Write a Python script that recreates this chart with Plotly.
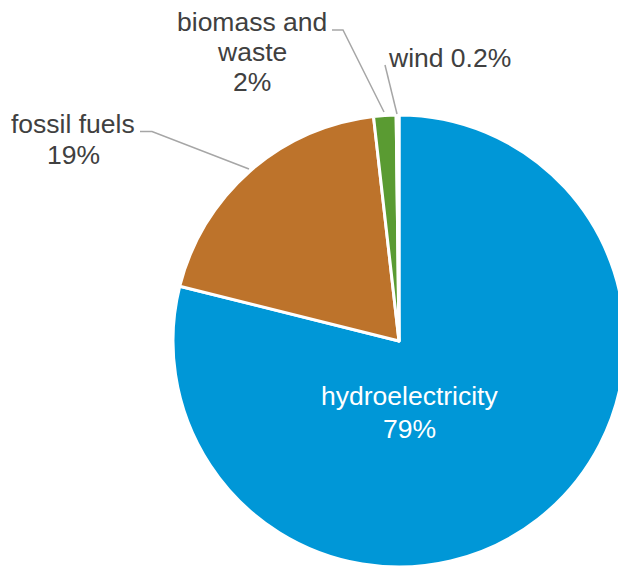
import plotly.graph_objects as go

# ---- data ----
sources = ["hydroelectricity", "fossil fuels", "biomass and waste", "wind"]
shares = [78.9, 19.3, 1.6, 0.2]
label_lines = [["hydroelectricity"], ["fossil fuels"], ["biomass and", "waste"], ["wind"]]
colors = ["#0097d7", "#bd732b", "#5a9b32", "#f2f2f2"]

W, H = 630, 568


def px(x):
    return x / W


def py(y):
    return 1 - y / H


def pct_text(v):
    p = v / sum(shares) * 100
    return f"{p:.1f}%" if p < 1 else f"{p:.0f}%"


fig = go.Figure(go.Pie(
    labels=sources,
    values=shares,
    sort=False,
    direction="clockwise",
    rotation=0,
    marker=dict(colors=colors, line=dict(color="white", width=3)),
    textinfo="none",
    hoverinfo="label+percent",
    showlegend=False,
    domain=dict(x=[px(173), px(625)], y=[py(567), py(115)]),
))

FONT = "Liberation Sans, Arial, sans-serif"
GREY = "#404040"

# label layouts: (lines, centre x, list of line centre y, colour)
layouts = {
    0: (label_lines[0] + [pct_text(shares[0])], 409, [396, 429], "white"),
    1: (label_lines[1] + [pct_text(shares[1])], 73, [124, 155], GREY),
    2: (label_lines[2] + [pct_text(shares[2])], 252, [22, 52, 82], GREY),
    3: ([label_lines[3][0] + " " + pct_text(shares[3])], 449, [58], GREY),
}

for i, (lines, cx, ys, col) in layouts.items():
    for txt, yy in zip(lines, ys):
        fig.add_annotation(
            x=px(cx), y=py(yy), xref="paper", yref="paper",
            text=txt, showarrow=False, xanchor="center", yanchor="middle",
            font=dict(family=FONT, size=26.5, color=col),
        )

# leader lines
leaders = [
    [(140, 131.5), (152, 131.5), (249, 169)],
    [(332, 30), (343, 30), (384, 112)],
    [(385, 65), (397, 114)],
]
for pts in leaders:
    path = "M " + " L ".join(f"{px(x)},{py(y)}" for x, y in pts)
    fig.add_shape(type="path", path=path, xref="paper", yref="paper",
                  line=dict(color="#a6a6a6", width=1.5))

fig.update_layout(
    width=W, height=H,
    margin=dict(l=0, r=0, t=0, b=0),
    paper_bgcolor="white",
    plot_bgcolor="white",
)

fig.write_html(
    "out.html",
    config={"displayModeBar": False},
    post_script="document.body.style.margin='0';document.body.style.overflow='hidden';document.documentElement.style.overflow='hidden';",
)
